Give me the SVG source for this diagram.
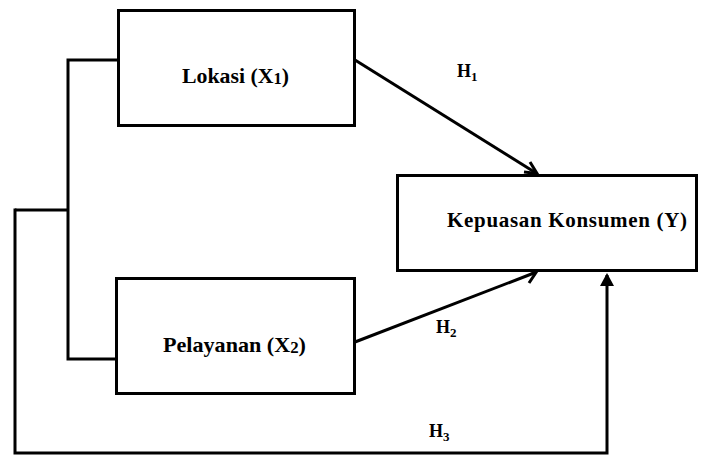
<svg xmlns="http://www.w3.org/2000/svg" width="703" height="455" viewBox="0 0 703 455">
<defs>
<style>
.box{fill:#fff;stroke:#000;stroke-width:3}
.ln{fill:none;stroke:#000;stroke-width:3}
.t{font-family:"Liberation Serif","Times New Roman",serif;font-weight:bold;font-size:21px;fill:#000}
.h{font-family:"Liberation Serif","Times New Roman",serif;font-weight:bold;font-size:18px;fill:#000}
</style>
</defs>
<g id="connectors">
<polyline class="ln" points="118,60 68,60 68,359 117,359"/>
<line class="ln" x1="15" y1="210" x2="68" y2="210"/>
<polyline class="ln" points="15,208.5 15,453 607,453 607,275"/>
<path d="M600,286 L607,273 L614,286 Z" fill="#000"/>
<line class="ln" x1="355" y1="60" x2="536" y2="173"/>
<path d="M524,172 L537,173.5 L530,162" fill="none" stroke="#000" stroke-width="3"/>
<line class="ln" x1="355" y1="342" x2="534" y2="273"/>
<path d="M524,268 L536,272.5 L529,283" fill="none" stroke="#000" stroke-width="3"/>
<text class="h" x="457" y="77">H<tspan font-size="13" dy="4">1</tspan></text>
<text class="h" x="436" y="333">H<tspan font-size="13" dy="4">2</tspan></text>
<text class="h" x="429" y="437">H<tspan font-size="13" dy="4">3</tspan></text>
</g>
<g id="lokasi">
<rect class="box" x="118.5" y="10.5" width="236" height="115"/>
<text class="t" x="182" y="83" textLength="107" lengthAdjust="spacingAndGlyphs">Lokasi (X<tspan font-size="16" dy="1">1</tspan><tspan dy="-1">)</tspan></text>
</g>
<g id="pelayanan">
<rect class="box" x="116.5" y="278.5" width="238" height="115"/>
<text class="t" x="163" y="352" textLength="143" lengthAdjust="spacingAndGlyphs">Pelayanan (X<tspan font-size="16" dy="1">2</tspan><tspan dy="-1">)</tspan></text>
</g>
<g id="kepuasan">
<rect class="box" x="397.5" y="175.5" width="299" height="95"/>
<text class="t" x="447" y="227" textLength="240" lengthAdjust="spacing">Kepuasan Konsumen (Y)</text>
</g>
</svg>
